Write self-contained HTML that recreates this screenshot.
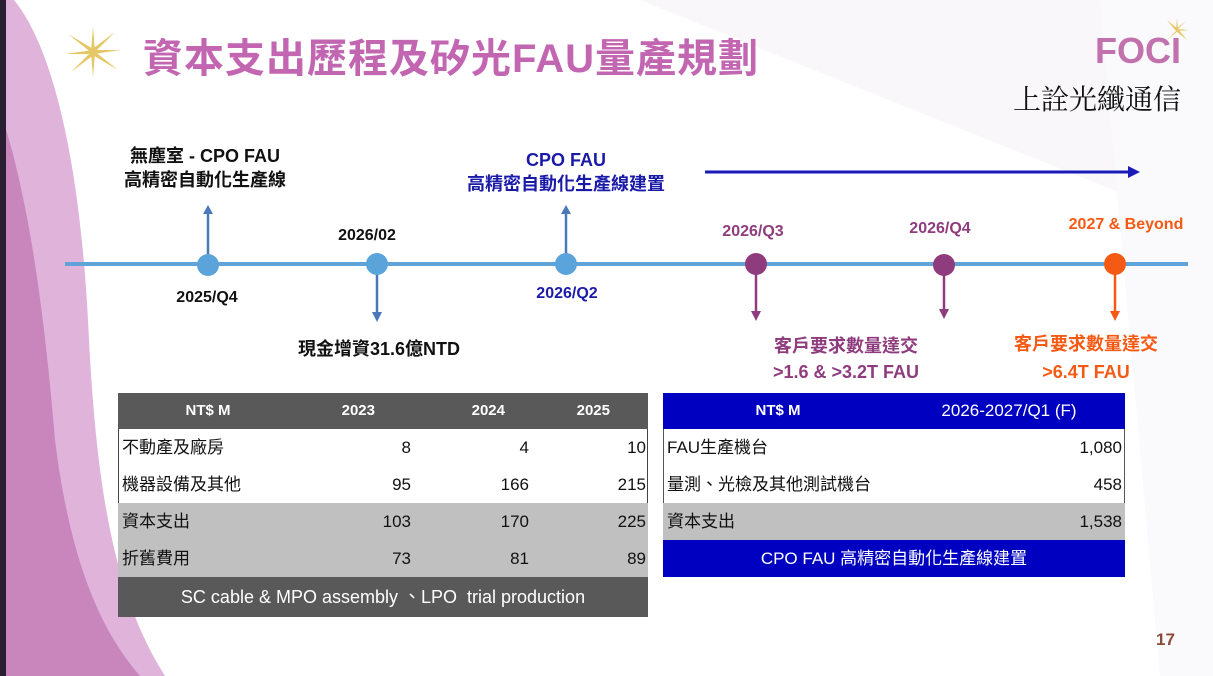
<!DOCTYPE html>
<html><head><meta charset="utf-8"><style>
*{margin:0;padding:0;box-sizing:border-box}
body{width:1213px;height:676px;position:relative;overflow:hidden;background:#fff;font-family:"Liberation Sans","Noto Sans CJK TC",sans-serif}
.a{position:absolute;white-space:nowrap}
.b{font-weight:bold}
.c{transform:translateX(-50%)}
.cell{position:absolute;font-size:17px;line-height:37px;color:#111}
</style></head><body>
<svg class="a" style="left:0;top:0" width="1213" height="676">
<polygon points="640,0 1213,0 1213,230" fill="#f9f7fa"/>
<polygon points="1100,0 1213,0 1213,676 1160,676" fill="#faf9fb"/>
<path d="M0,0 L14,0 C55,50 80,170 88,320 C95,470 110,590 165,676 L0,676 Z" fill="#e0b4da"/>
<path d="M0,110 C30,200 45,320 55,440 C70,560 100,630 140,676 L0,676 Z" fill="#c986bd"/>
<rect x="0" y="0" width="6" height="676" fill="#2a1e33"/>
<g transform="translate(93,52)" fill="#e6c766">
<polygon points="-25,-18 2,-2 0,2"/><polygon points="25,18 -2,2 0,-2"/><polygon points="-22,20 -2,0 2,2"/><polygon points="22,-20 2,0 -2,-2"/><polygon points="0,-26 2,0 -2,0"/><polygon points="0,26 -2,0 2,0"/><polygon points="-28,2 0,-2 0,2"/><polygon points="28,-2 0,2 0,-2"/></g>
<line x1="65" y1="264" x2="1188" y2="264" stroke="#5fa3d8" stroke-width="4"/>
<line x1="705" y1="172" x2="1130" y2="172" stroke="#1a1ab8" stroke-width="3"/>
<polygon points="1140,172 1128,166 1128,178" fill="#1a1ab8"/>
<g stroke="#4a78b8" stroke-width="2.5" fill="#4a78b8">
<line x1="208" y1="264" x2="208" y2="212"/><polygon points="208,205 203,214 213,214" stroke="none"/>
<line x1="377" y1="264" x2="377" y2="314"/><polygon points="377,322 372,312 382,312" stroke="none"/>
<line x1="566" y1="264" x2="566" y2="212"/><polygon points="566,205 561,214 571,214" stroke="none"/></g>
<g stroke="#8e3c7e" stroke-width="2.5" fill="#8e3c7e">
<line x1="756" y1="264" x2="756" y2="312"/><polygon points="756,321 751,311 761,311" stroke="none"/>
<line x1="944" y1="264" x2="944" y2="310"/><polygon points="944,319 939,309 949,309" stroke="none"/></g>
<g stroke="#f55a14" stroke-width="2.5" fill="#f55a14">
<line x1="1115" y1="264" x2="1115" y2="312"/><polygon points="1115,321 1110,311 1120,311" stroke="none"/></g>
<circle cx="208" cy="265" r="11" fill="#5ba3db"/><circle cx="377" cy="264" r="11" fill="#5ba3db"/><circle cx="566" cy="264" r="11" fill="#5ba3db"/>
<circle cx="756" cy="264" r="11" fill="#8e3c7e"/><circle cx="944" cy="265" r="11" fill="#8e3c7e"/><circle cx="1115" cy="264" r="11" fill="#f55a14"/>
<g transform="translate(1177,30)" fill="#e6c766"><polygon points="-10,-10 1,-1 -1,1"/><polygon points="10,10 -1,1 1,-1"/><polygon points="-9,9 0,0 1,1"/><polygon points="9,-9 0,0 -1,-1"/><polygon points="0,-12 1,0 -1,0"/><polygon points="12,0 0,1 0,-1"/></g>
</svg>
<div class="a b" style="left:143px;top:26px;font-size:40px;color:#c266b2;letter-spacing:1px">資本支出歷程及矽光FAU量產規劃</div>
<div class="a b" style="left:1095px;top:30px;font-size:36px;color:#c071ae">FOCI</div>
<div class="a" style="left:1013px;top:78px;font-size:28px;color:#111;font-family:'Noto Serif CJK SC',serif">上詮光纖通信</div>

<div class="a b c" style="left:205px;top:144px;font-size:18px;color:#111;text-align:center;line-height:24px">無塵室 - CPO FAU<br>高精密自動化生產線</div>
<div class="a b c" style="left:207px;top:289px;font-size:16px;color:#111">2025/Q4</div>
<div class="a b c" style="left:367px;top:227px;font-size:16px;color:#111">2026/02</div>
<div class="a b" style="left:298px;top:335px;font-size:18px;color:#111">現金增資31.6億NTD</div>
<div class="a b c" style="left:566px;top:148px;font-size:18px;color:#1a1aa8;text-align:center;line-height:24px">CPO FAU<br>高精密自動化生產線建置</div>
<div class="a b c" style="left:567px;top:285px;font-size:16px;color:#1a1aa8">2026/Q2</div>
<div class="a b c" style="left:753px;top:223px;font-size:16px;color:#8e3c7e">2026/Q3</div>
<div class="a b c" style="left:940px;top:220px;font-size:16px;color:#8e3c7e">2026/Q4</div>
<div class="a b c" style="left:1126px;top:216px;font-size:16px;color:#f55a14">2027 &amp; Beyond</div>
<div class="a b c" style="left:846px;top:333px;font-size:18px;color:#8e3c7e;text-align:center;line-height:26px">客戶要求數量達交<br>&gt;1.6 &amp; &gt;3.2T FAU</div>
<div class="a b c" style="left:1086px;top:330px;font-size:18px;color:#f55a14;text-align:center;line-height:28px">客戶要求數量達交<br>&gt;6.4T FAU</div>

<div class="a" style="left:118px;top:393px;width:530px;height:224px;border:1px solid #444;background:#fff"></div>
<div class="a" style="left:118px;top:393px;width:530px;height:36px;background:#595959"></div>
<div class="a" style="left:118px;top:503px;width:530px;height:74px;background:#c0c0c0"></div>
<div class="a" style="left:118px;top:577px;width:530px;height:40px;background:#595959"></div>
<div class="cell b" style="left:118px;top:393px;width:180px;text-align:center;color:#fff;font-size:15px;line-height:36px">NT$ M</div>
<div class="cell b" style="left:298px;top:393px;width:115px;text-align:right;color:#fff;font-size:15px;line-height:36px;padding-right:38px">2023</div>
<div class="cell b" style="left:413px;top:393px;width:118px;text-align:right;color:#fff;font-size:15px;line-height:36px;padding-right:26px">2024</div>
<div class="cell b" style="left:531px;top:393px;width:117px;text-align:right;color:#fff;font-size:15px;line-height:36px;padding-right:38px">2025</div>
<div class="cell" style="left:122px;top:429px">不動產及廠房</div>
<div class="cell" style="left:122px;top:466px">機器設備及其他</div>
<div class="cell" style="left:122px;top:503px">資本支出</div>
<div class="cell" style="left:122px;top:540px">折舊費用</div>
<div class="cell" style="left:300px;top:429px;width:111px;text-align:right;line-height:37px">8<br>95<br>103<br>73</div>
<div class="cell" style="left:420px;top:429px;width:109px;text-align:right;line-height:37px">4<br>166<br>170<br>81</div>
<div class="cell" style="left:540px;top:429px;width:106px;text-align:right;line-height:37px">10<br>215<br>225<br>89</div>
<div class="cell" style="left:118px;top:578px;width:530px;text-align:center;color:#fff;line-height:38px;font-size:18px">SC cable &amp; MPO assembly 、LPO&nbsp; trial production</div>

<div class="a" style="left:663px;top:393px;width:462px;height:184px;background:#fff;border:1px solid #555"></div>
<div class="a" style="left:663px;top:393px;width:462px;height:36px;background:#0000c0"></div>
<div class="a" style="left:663px;top:503px;width:462px;height:37px;background:#c0c0c0"></div>
<div class="a" style="left:663px;top:540px;width:462px;height:37px;background:#0000c0"></div>
<div class="cell b" style="left:663px;top:393px;width:230px;text-align:center;color:#fff;font-size:15px;line-height:36px">NT$ M</div>
<div class="cell" style="left:893px;top:393px;width:232px;text-align:center;color:#fff;line-height:36px">2026-2027/Q1 (F)</div>
<div class="cell" style="left:667px;top:429px">FAU生產機台</div>
<div class="cell" style="left:667px;top:466px">量測、光檢及其他測試機台</div>
<div class="cell" style="left:667px;top:503px">資本支出</div>
<div class="cell" style="left:900px;top:429px;width:222px;text-align:right">1,080<br>458<br>1,538</div>
<div class="cell" style="left:663px;top:540px;width:462px;text-align:center;color:#fff">CPO FAU 高精密自動化生產線建置</div>

<div class="a b" style="left:1156px;top:630px;font-size:17px;color:#8a4a3a">17</div>
</body></html>
